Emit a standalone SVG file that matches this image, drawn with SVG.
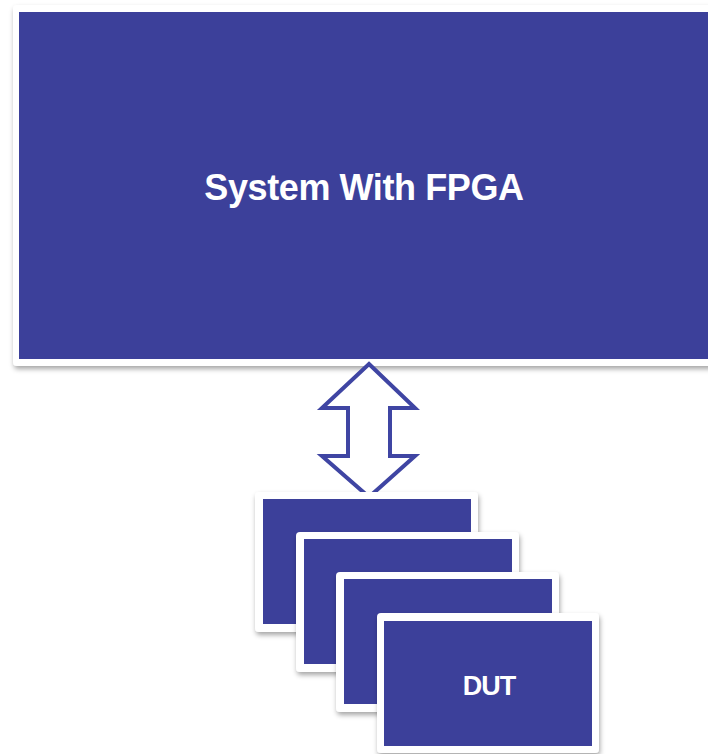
<svg xmlns="http://www.w3.org/2000/svg" width="708" height="754" viewBox="0 0 708 754">
  <style>
    .frame { fill: #ffffff; }
    .panel { fill: #3c409a; }
    .label { fill: #ffffff; font-family: "Liberation Sans", Arial, sans-serif; font-weight: bold; text-anchor: middle; }
    .link { fill: #ffffff; stroke: #3f45a3; stroke-width: 4; stroke-linejoin: miter; }
  </style>
  <defs>
    <filter id="shadow" x="-10%" y="-10%" width="130%" height="130%">
      <feDropShadow dx="1" dy="3" stdDeviation="2.5" flood-color="#000000" flood-opacity="0.35"/>
    </filter>
  </defs>

  <rect x="0" y="0" width="708" height="754" fill="#ffffff"/>

  <!-- main system block -->
  <g id="system">
    <rect class="frame" x="13" y="5" width="720" height="361" rx="4" filter="url(#shadow)"/>
    <rect class="panel" x="19" y="12" width="700" height="347"/>
    <text class="label" x="364" y="200" font-size="36" letter-spacing="-0.4">System With FPGA</text>
  </g>

  <!-- bidirectional link -->
  <g id="connectors">
    <path class="link" d="M369,364 L415,408 L390,408 L390,456 L415,456 L369,497 L322,456 L348,456 L348,408 L322,408 Z"/>
  </g>

  <!-- stacked DUT cards -->
  <g id="dut1">
    <rect class="frame" x="255" y="492" width="223" height="140" rx="4" filter="url(#shadow)"/>
    <rect class="panel" x="263" y="499" width="208" height="125"/>
  </g>
  <g id="dut2">
    <rect class="frame" x="296" y="532" width="223" height="140" rx="4" filter="url(#shadow)"/>
    <rect class="panel" x="304" y="539" width="208" height="125"/>
  </g>
  <g id="dut3">
    <rect class="frame" x="336" y="572" width="223" height="140" rx="4" filter="url(#shadow)"/>
    <rect class="panel" x="344" y="579" width="208" height="125"/>
  </g>
  <g id="dut4">
    <rect class="frame" x="377" y="613" width="222" height="140" rx="4" filter="url(#shadow)"/>
    <rect class="panel" x="384" y="621" width="208" height="125"/>
    <text class="label" x="489" y="695" font-size="27" letter-spacing="-1">DUT</text>
  </g>
</svg>
